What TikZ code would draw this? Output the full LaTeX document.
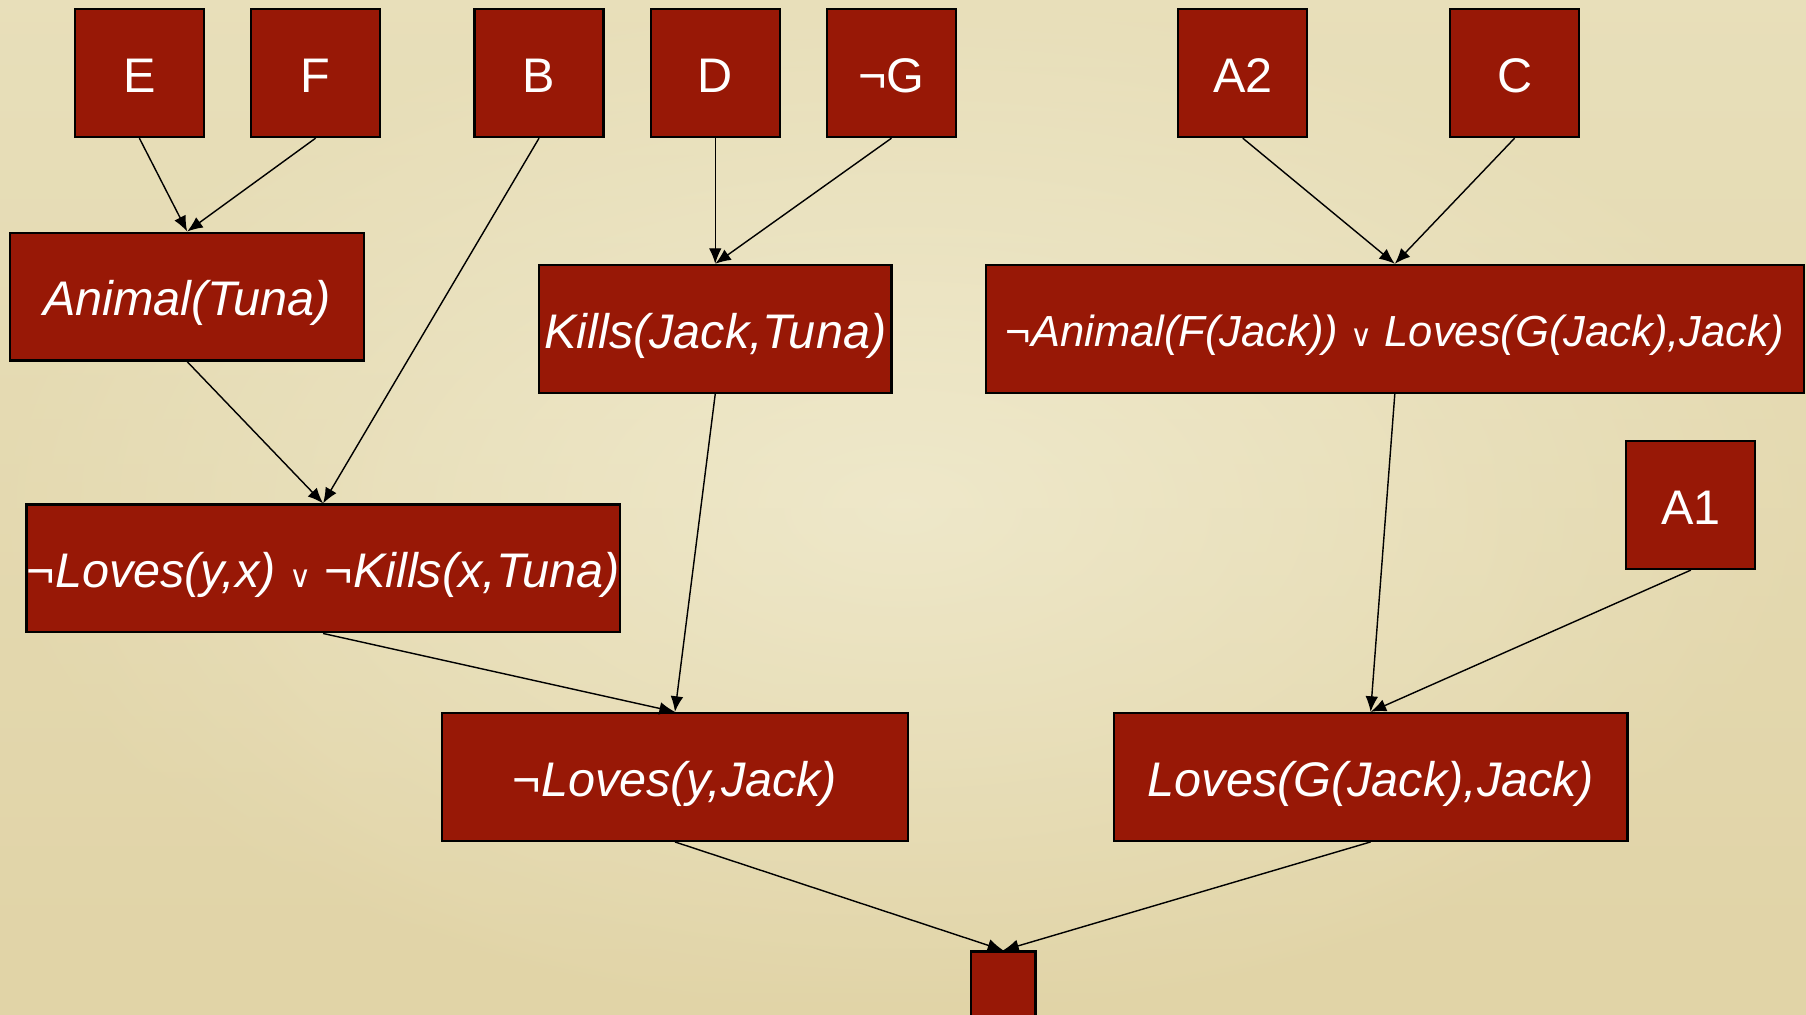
\documentclass[tikz,border=0pt]{standalone}
\usepackage{fontspec}
\setmainfont{Liberation Sans}
\newfontfamily\orfont{DejaVu Sans}
\usetikzlibrary{arrows.meta,shapes}
\definecolor{boxred}{RGB}{152,24,6}
\definecolor{parchtop}{RGB}{240,235,206}
\definecolor{parchmid}{RGB}{244,240,216}
\definecolor{parchbot}{RGB}{225,212,167}
\tikzstyle{every node}=[font=\fontsize{24}{29}\selectfont\itshape, text centered, text=white]
\tikzstyle{box} = [draw, line width=1.1pt, fill=boxred, inner sep=0pt, minimum height=22.2mm, text height=19pt, text depth=0pt]
\tikzstyle{sq} = [box, minimum width=22.4mm, font=\fontsize{24}{29}\selectfont\upshape]
\tikzstyle{line} = [draw, line width=0.7pt, -{Latex[length=2.7mm,width=2.2mm]}]
\newcommand{\orsym}{{\upshape\orfont\fontsize{15}{15}\selectfont ∨}}

\begin{document}
\begin{tikzpicture}[x=0.2mm,y=-0.2mm]
    \useasboundingbox (0,0) rectangle (1568,881);
    \clip (0,0) rectangle (1568,881);
    \shade[top color=parchtop, bottom color=parchbot] (0,0) rectangle (1568,881);
    \shade[inner color=parchmid, outer color=parchbot, opacity=0.5] (0,0) rectangle (1568,881);

    % premises
    \node[sq] (eNode) at (121,63.5) {E};
    \node[sq] (fNode) at (274,63.5) {F};
    \node[sq] (bNode) at (468,63.5) {B};
    \node[sq] (dNode) at (621,63.5) {D};
    \node[sq] (notGNode) at (774,63.5) {¬G};
    \node[sq] (aTwoNode) at (1079,63.5) {A2};
    \node[sq] (cNode) at (1315,63.5) {C};
    \node[sq] (aOneNode) at (1468,438.5) {A1};

    % resolvents
    \node[box, minimum width=61.4mm] (animalNode) at (162.5,257.5) {Animal(Tuna)};
    \node[box, minimum width=61.2mm] (killsNode) at (621,285.5) {Kills(Jack,Tuna)};
    \node[box, minimum width=142mm, text height=17pt, font=\fontsize{21.5}{26}\selectfont\itshape] (animalLovesNode) at (1211,285.5) {¬Animal(F(Jack)) \orsym{} Loves(G(Jack),Jack)};
    \node[box, minimum width=103mm] (lovesKillsNode) at (280.5,493.5) {¬Loves(y,x) \orsym{} ¬Kills(x,Tuna)};
    \node[box, minimum width=80.8mm] (notLovesNode) at (586,674.5) {¬Loves(y,Jack)};
    \node[box, minimum width=89.2mm] (lovesNode) at (1190,674.5) {Loves(G(Jack),Jack)};
    \node[box, minimum width=11.2mm] (emptyNode) at (871,881.5) {};

    \path[line] (eNode.south) -- (animalNode.north);
    \path[line] (fNode.south) -- (animalNode.north);
    \path[line] (animalNode.south) -- (lovesKillsNode.north);
    \path[line] (bNode.south) -- (lovesKillsNode.north);
    \path[line] (dNode.south) -- (killsNode.north);
    \path[line] (notGNode.south) -- (killsNode.north);
    \path[line] (aTwoNode.south) -- (animalLovesNode.north);
    \path[line] (cNode.south) -- (animalLovesNode.north);
    \path[line] (lovesKillsNode.south) -- (notLovesNode.north);
    \path[line] (killsNode.south) -- (notLovesNode.north);
    \path[line] (animalLovesNode.south) -- (lovesNode.north);
    \path[line] (aOneNode.south) -- (lovesNode.north);
    \path[line] (notLovesNode.south) -- (emptyNode.north);
    \path[line] (lovesNode.south) -- (emptyNode.north);

\end{tikzpicture}
\end{document}
